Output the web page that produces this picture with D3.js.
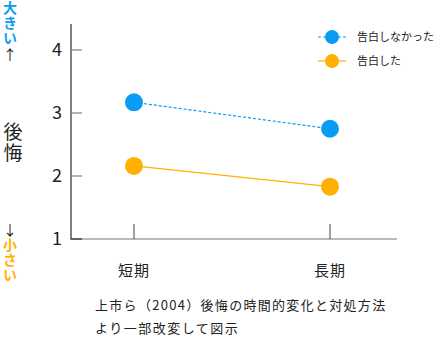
<!DOCTYPE html>
<html><head><meta charset="utf-8">
<script src="https://cdn.jsdelivr.net/npm/d3@7"></script>
<style>body{margin:0;background:#fff;} text{font-family:"Noto Sans CJK JP","Noto Sans",sans-serif;}</style>
</head><body>
<svg id="c" width="434" height="339"></svg>
<script>
const categories = ["短期", "長期"];
const notConfessed = [3.17, 2.75];
const confessed = [2.16, 1.83];
const seriesNames = ["告白しなかった", "告白した"];
const yTicks = [1, 2, 3, 4];

const svg = d3.select("#c");
const blue = "#0a9cf5", orange = "#ffb000";
const x = d3.scalePoint().domain(categories).range([134, 330]);
const y = d3.scaleLinear().domain([1, 4]).range([239, 50]);

svg.append("line").attr("x1",71).attr("x2",71).attr("y1",24).attr("y2",239).attr("stroke","#000").attr("stroke-width",1);
svg.append("line").attr("x1",70).attr("x2",397).attr("y1",239).attr("y2",239).attr("stroke","#777").attr("stroke-width",1);
yTicks.forEach(t=>{
  svg.append("line").attr("x1",71).attr("x2",82).attr("y1",y(t)).attr("y2",y(t)).attr("stroke",t===1?"#333":"#888").attr("stroke-width",1.3);
  svg.append("text").attr("x",57).attr("y",y(t)+6).attr("text-anchor","middle").attr("font-size",18).attr("font-family","DejaVu Sans, sans-serif").attr("fill","#222").text(t);
});
categories.forEach(c=>{
  svg.append("line").attr("x1",x(c)).attr("x2",x(c)).attr("y1",224).attr("y2",239).attr("stroke","#444").attr("stroke-width",1);
  svg.append("text").attr("x",x(c)).attr("y",276).attr("text-anchor","middle").attr("font-size",15).attr("letter-spacing",1).attr("fill","#222").text(c);
});

const line = d3.line().x((d,i)=>x(categories[i])).y(d=>y(d));
svg.append("path").attr("d",line(notConfessed)).attr("fill","none").attr("stroke",blue).attr("stroke-width",1.2).attr("stroke-dasharray","3,2");
svg.append("path").attr("d",line(confessed)).attr("fill","none").attr("stroke",orange).attr("stroke-width",1.2);
notConfessed.forEach((v,i)=>svg.append("circle").attr("cx",x(categories[i])).attr("cy",y(v)).attr("r",9).attr("fill",blue));
confessed.forEach((v,i)=>svg.append("circle").attr("cx",x(categories[i])).attr("cy",y(v)).attr("r",9).attr("fill",orange));

const lg = [{name:seriesNames[0],c:blue,dash:"3,2",y:37},{name:seriesNames[1],c:orange,dash:null,y:61}];
lg.forEach(d=>{
  svg.append("line").attr("x1",318).attr("x2",346).attr("y1",d.y).attr("y2",d.y).attr("stroke",d.c).attr("stroke-width",1.2).attr("stroke-dasharray",d.dash);
  svg.append("circle").attr("cx",332).attr("cy",d.y).attr("r",7).attr("fill",d.c);
  svg.append("text").attr("x",357).attr("y",d.y+4).attr("font-size",11).attr("fill","#222").text(d.name);
});

const vtext = (s, xx, yy, size, color, weight, ls)=>svg.append("text").attr("x",xx).attr("y",yy)
  .style("writing-mode","vertical-rl").style("text-orientation","upright")
  .attr("font-size",size).attr("font-weight",weight||"normal").attr("letter-spacing",ls||0).attr("fill",color).text(s);
vtext("大きい",10,1,14,blue,"bold",1);
svg.append("text").attr("x",10).attr("y",60).attr("text-anchor","middle").attr("font-size",14).attr("fill","#222").text("↑");
vtext("後悔",13,122,19,"#222","normal",2);
svg.append("text").attr("x",10).attr("y",235).attr("text-anchor","middle").attr("font-size",14).attr("fill","#222").text("↓");
vtext("小さい",10,238,14,orange,"bold",1);

svg.append("text").attr("x",95).attr("y",310).attr("font-size",13).attr("letter-spacing",1.3).attr("fill","#222").text("上市ら（2004）後悔の時間的変化と対処方法");
svg.append("text").attr("x",95).attr("y",333).attr("font-size",13).attr("letter-spacing",1.5).attr("fill","#222").text("より一部改変して図示");
</script>
</body></html>
